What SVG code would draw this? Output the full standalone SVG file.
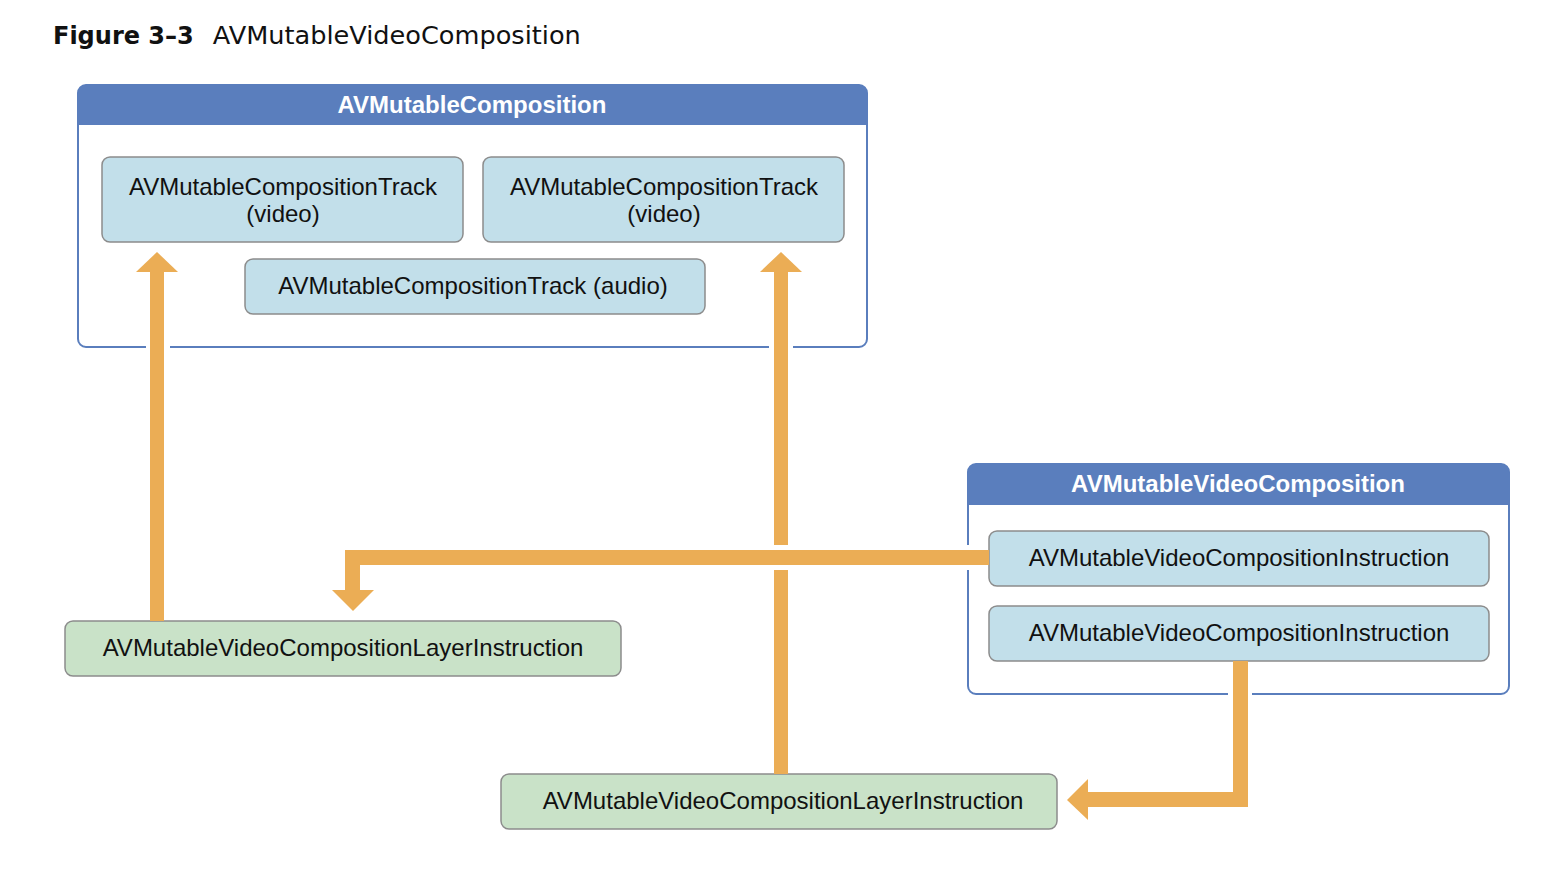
<svg xmlns="http://www.w3.org/2000/svg" width="1550" height="872" viewBox="0 0 1550 872">
<style>
.cont{fill:#fff;stroke:#5a7ebd;stroke-width:2}
.hdr{fill:#5a7ebd}
.htxt{font-family:"Liberation Sans",Arial,sans-serif;font-weight:bold;font-size:24px;fill:#fff;text-anchor:middle}
.blue{fill:#c2dfea;stroke:#8c8c8c;stroke-width:1.5}
.green{fill:#c9e2c8;stroke:#8c8c8c;stroke-width:1.5}
.txt{font-family:"Liberation Sans",Arial,sans-serif;font-size:24px;fill:#111;text-anchor:middle}
.arr{fill:#ebad55}
.gap{fill:#fff}
</style>
<rect width="1550" height="872" fill="#fff"/>
<text x="53" y="44" font-family="'DejaVu Sans',sans-serif" fill="#111"><tspan font-weight="bold" font-size="24">Figure 3–3</tspan><tspan dx="19" font-size="25.6">AVMutableVideoComposition</tspan></text>

<g id="avmutablecomposition">
<rect class="cont" x="78" y="85" width="789" height="262" rx="8"/>
<path class="hdr" d="M86 85 H859 A8 8 0 0 1 867 93 V125 H78 V93 A8 8 0 0 1 86 85 Z"/>
<text class="htxt" x="472" y="113">AVMutableComposition</text>
</g>
<g id="track-video-1">
<rect class="blue" x="102" y="157" width="361" height="85" rx="8"/>
<text class="txt" x="283" y="195">AVMutableCompositionTrack</text>
<text class="txt" x="283" y="222">(video)</text>
</g>
<g id="track-video-2">
<rect class="blue" x="483" y="157" width="361" height="85" rx="8"/>
<text class="txt" x="664" y="195">AVMutableCompositionTrack</text>
<text class="txt" x="664" y="222">(video)</text>
</g>
<g id="track-audio">
<rect class="blue" x="245" y="259" width="460" height="55" rx="8"/>
<text class="txt" x="473" y="294">AVMutableCompositionTrack (audio)</text>
</g>

<g id="avmutablevideocomposition">
<rect class="cont" x="968" y="464" width="541" height="230" rx="8"/>
<path class="hdr" d="M976 464 H1501 A8 8 0 0 1 1509 472 V505 H968 V472 A8 8 0 0 1 976 464 Z"/>
<text class="htxt" x="1238" y="492">AVMutableVideoComposition</text>
</g>
<g id="instruction-1">
<rect class="blue" x="989" y="531" width="500" height="55" rx="8"/>
<text class="txt" x="1239" y="566">AVMutableVideoCompositionInstruction</text>
</g>
<g id="instruction-2">
<rect class="blue" x="989" y="606" width="500" height="55" rx="8"/>
<text class="txt" x="1239" y="641">AVMutableVideoCompositionInstruction</text>
</g>

<g id="layer-instruction-1">
<rect class="green" x="65" y="621" width="556" height="55" rx="8"/>
<text class="txt" x="343" y="656">AVMutableVideoCompositionLayerInstruction</text>
</g>
<g id="layer-instruction-2">
<rect class="green" x="501" y="774" width="556" height="55" rx="8"/>
<text class="txt" x="783" y="809">AVMutableVideoCompositionLayerInstruction</text>
</g>

<g id="connectors">
<rect class="gap" x="146" y="344" width="24" height="6"/>
<rect class="arr" x="150" y="271" width="14" height="350"/>
<polygon class="arr" points="157,252 178,272 136,272"/>
<rect class="gap" x="769" y="344" width="24" height="6"/>
<rect class="arr" x="774" y="271" width="14" height="503"/>
<polygon class="arr" points="781,252 802,272 760,272"/>
<rect class="gap" x="770" y="545" width="22" height="25"/>
<rect class="gap" x="964" y="545" width="8" height="25"/>
<path class="arr" d="M989 550 H345 V591 H360 V565 H989 Z"/>
<polygon class="arr" points="332,590 374,590 353,611"/>
<rect class="gap" x="1228" y="690" width="24" height="6"/>
<path class="arr" d="M1233 661 V792 H1087 V807 H1248 V661 Z"/>
<polygon class="arr" points="1088,779 1088,820 1067,800"/>
</g>
</svg>
